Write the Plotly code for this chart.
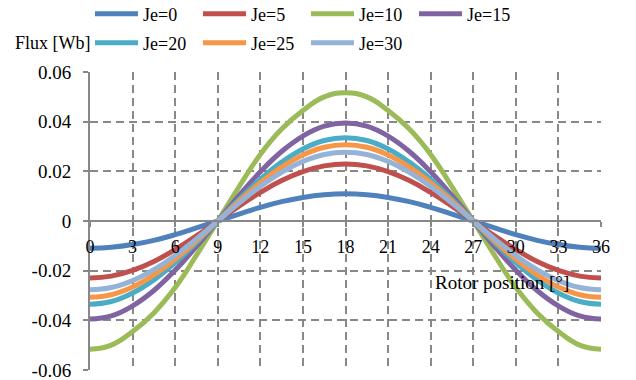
import plotly.graph_objects as go

positions = [0, 1.5, 3, 4.5, 6, 7.5, 9, 10.5, 12, 13.5, 15, 16.5, 18,
             19.5, 21, 22.5, 24, 25.5, 27, 28.5, 30, 31.5, 33, 34.5, 36]

je0 = [-0.011, -0.0106, -0.0095, -0.0078, -0.0055, -0.0028, 0, 0.0028, 0.0055, 0.0078, 0.0095, 0.0106, 0.011,
       0.0106, 0.0095, 0.0078, 0.0055, 0.0028, 0, -0.0028, -0.0055, -0.0078, -0.0095, -0.0106, -0.011]
je5 = [-0.023, -0.0222, -0.0199, -0.0163, -0.0115, -0.006, 0, 0.006, 0.0115, 0.0163, 0.0199, 0.0222, 0.023,
       0.0222, 0.0199, 0.0163, 0.0115, 0.006, 0, -0.006, -0.0115, -0.0163, -0.0199, -0.0222, -0.023]
je10 = [-0.0516, -0.0500, -0.0445, -0.0370, -0.0268, -0.0138, 0, 0.0138, 0.0268, 0.0370, 0.0445, 0.0500, 0.0516,
        0.0500, 0.0445, 0.0370, 0.0268, 0.0138, 0, -0.0138, -0.0268, -0.0370, -0.0445, -0.0500, -0.0516]
je15 = [-0.0395, -0.0382, -0.0342, -0.028, -0.0198, -0.0102, 0, 0.0102, 0.0198, 0.028, 0.0342, 0.0382, 0.0395,
        0.0382, 0.0342, 0.028, 0.0198, 0.0102, 0, -0.0102, -0.0198, -0.028, -0.0342, -0.0382, -0.0395]
je20 = [-0.0335, -0.0324, -0.029, -0.0237, -0.0168, -0.0087, 0, 0.0087, 0.0168, 0.0237, 0.029, 0.0324, 0.0335,
        0.0324, 0.029, 0.0237, 0.0168, 0.0087, 0, -0.0087, -0.0168, -0.0237, -0.029, -0.0324, -0.0335]
je25 = [-0.0307, -0.0297, -0.0266, -0.0217, -0.0154, -0.008, 0, 0.008, 0.0154, 0.0217, 0.0266, 0.0297, 0.0307,
        0.0297, 0.0266, 0.0217, 0.0154, 0.008, 0, -0.008, -0.0154, -0.0217, -0.0266, -0.0297, -0.0307]
je30 = [-0.0277, -0.0268, -0.024, -0.0196, -0.0139, -0.0072, 0, 0.0072, 0.0139, 0.0196, 0.024, 0.0268, 0.0277,
        0.0268, 0.024, 0.0196, 0.0139, 0.0072, 0, -0.0072, -0.0139, -0.0196, -0.024, -0.0268, -0.0277]

names = ["Je=0", "Je=5", "Je=10", "Je=15", "Je=20", "Je=25", "Je=30"]
series = [je0, je5, je10, je15, je20, je25, je30]
colors = ["#4F81BD", "#C0504D", "#9BBB59", "#8064A2", "#4BACC6", "#F79646", "#95B3D7"]
legend_ids = ["legend", "legend", "legend", "legend", "legend2", "legend2", "legend2"]

x_ticks = [0, 3, 6, 9, 12, 15, 18, 21, 24, 27, 30, 33, 36]
y_ticks = [-0.06, -0.04, -0.02, 0, 0.02, 0.04, 0.06]
y_labels = ["-0.06", "-0.04", "-0.02", "0", "0.02", "0.04", "0.06"]

FONT = "Liberation Serif, Times New Roman, serif"
GRID = "#888888"

fig = go.Figure()
for name, vals, col, lg in zip(names, series, colors, legend_ids):
    fig.add_trace(go.Scatter(x=positions, y=vals, name=name, mode="lines",
                             line=dict(color=col, width=5, shape="spline", smoothing=1.3),
                             legend=lg))

legend_common = dict(orientation="h", x=0, xanchor="left", yanchor="middle",
                     yref="container",
                     font=dict(family=FONT, size=18, color="black"),
                     itemwidth=43, entrywidth=50, entrywidthmode="pixels",
                     bgcolor="rgba(0,0,0,0)", tracegroupgap=0)

fig.update_layout(
    width=636, height=380,
    margin=dict(l=90, r=35, t=72, b=10, autoexpand=False),
    paper_bgcolor="white", plot_bgcolor="white",
    font=dict(family=FONT, size=18, color="black"),
    legend=dict(y=1 - 14 / 380, **legend_common),
    legend2=dict(y=1 - 43 / 380, **legend_common),
    xaxis=dict(range=[0, 36], tickvals=x_ticks, anchor="free", position=0.5,
               showline=True, linecolor=GRID, linewidth=2,
               ticks="outside", ticklen=5, tickcolor=GRID, tickwidth=2,
               ticklabelstandoff=4, ticklabeloverflow="allow",
               showgrid=True, gridcolor=GRID, gridwidth=2, griddash="8px,5px",
               zeroline=False, tickfont=dict(family=FONT, size=18, color="black")),
    yaxis=dict(range=[-0.06, 0.06], tickvals=y_ticks, ticktext=y_labels,
               showline=True, linecolor=GRID, linewidth=2,
               ticks="outside", ticklen=5, tickcolor=GRID, tickwidth=2,
               ticklabelstandoff=8, ticklabeloverflow="allow",
               showgrid=True, gridcolor=GRID, gridwidth=2, griddash="8px,5px",
               zeroline=False, tickfont=dict(family=FONT, size=19, color="black")),
    annotations=[
        dict(text="Flux [Wb]", x=(13 - 90) / 511, y=1 + (72 - 43) / 298,
             xref="paper", yref="paper",
             xanchor="left", yanchor="middle", showarrow=False,
             font=dict(family=FONT, size=18, color="black")),
        dict(text="Rotor position [°]", x=0.671, y=0.295, xref="paper", yref="paper",
             xanchor="left", yanchor="middle", showarrow=False,
             font=dict(family=FONT, size=19, color="black")),
    ],
)

fig.write_html("out.html")
